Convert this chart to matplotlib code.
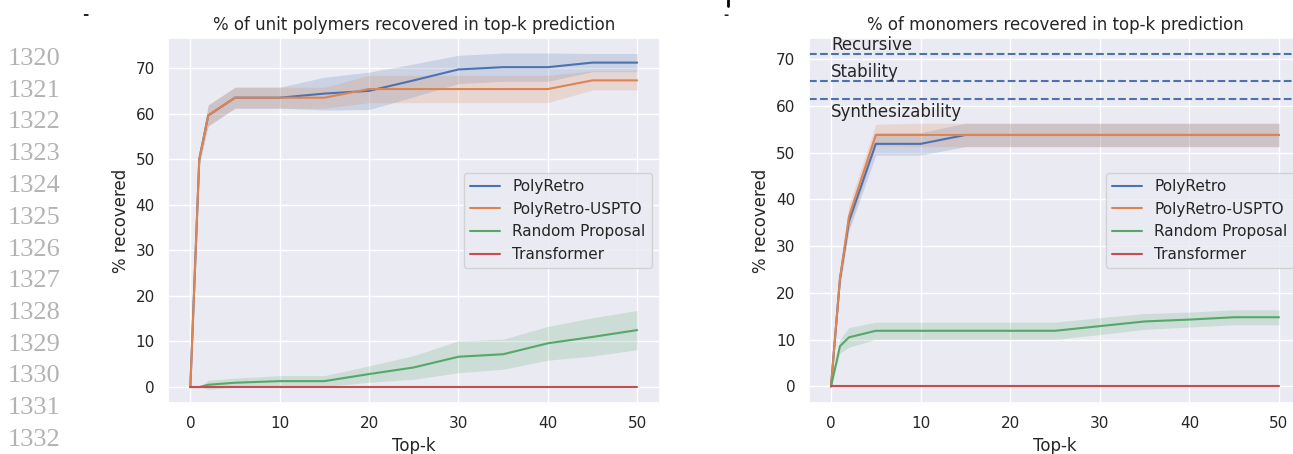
import matplotlib
matplotlib.use('Agg')
import matplotlib.pyplot as plt
import numpy as np
import seaborn as sns
from matplotlib.lines import Line2D

sns.set_theme(style='darkgrid', context='notebook')

# top-k values evaluated
top_k = [0, 1, 2, 5, 10, 15, 20, 25, 30, 35, 40, 45, 50]

# % of unit polymers recovered (mean and std over runs)
unit_polyretro = [0, 50, 59.6, 63.5, 63.5, 64.4, 65.0, 67.3, 69.7, 70.2, 70.2, 71.2, 71.2]
unit_polyretro_std = [0, 1.0, 2.3, 2.3, 2.3, 3.6, 4.1, 3.6, 3.1, 3.1, 3.1, 2.0, 2.0]
unit_uspto = [0, 50, 59.6, 63.5, 63.5, 63.5, 65.4, 65.4, 65.4, 65.4, 65.4, 67.3, 67.3]
unit_uspto_std = [0, 1.0, 2.3, 2.3, 2.3, 2.3, 3.0, 3.0, 3.0, 3.0, 3.0, 2.1, 2.1]
unit_random = [0, 0, 0.5, 0.95, 1.3, 1.3, 2.85, 4.3, 6.65, 7.2, 9.6, 11.0, 12.5]
unit_random_std = [0, 0, 1.0, 1.0, 1.2, 1.2, 1.8, 2.6, 3.5, 3.3, 3.7, 4.2, 4.3]
unit_transformer = [0] * 13
unit_transformer_std = [0] * 13

# % of monomers recovered
mono_polyretro = [0, 23, 35.3, 51.9, 51.9, 53.8, 53.8, 53.8, 53.8, 53.8, 53.8, 53.8, 53.8]
mono_polyretro_std = [0, 1.5, 2.0, 2.4, 2.4, 2.5, 2.5, 2.5, 2.5, 2.5, 2.5, 2.5, 2.5]
mono_uspto = [0, 23, 36.3, 53.8, 53.8, 53.8, 53.8, 53.8, 53.8, 53.8, 53.8, 53.8, 53.8]
mono_uspto_std = [0, 1.5, 2.5, 2.3, 2.5, 2.5, 2.5, 2.5, 2.5, 2.5, 2.5, 2.5, 2.5]
mono_random = [0, 8.6, 10.5, 11.9, 11.9, 11.9, 11.9, 11.9, 12.9, 13.9, 14.3, 14.8, 14.8]
mono_random_std = [0, 1.5, 2.1, 1.85, 1.85, 1.85, 1.85, 1.85, 1.8, 1.7, 1.6, 1.6, 1.6]
mono_transformer = [0] * 13
mono_transformer_std = [0] * 13

# baselines for monomers
ref_names = ['Recursive', 'Stability', 'Synthesizability']
ref_values = [71.1, 65.3, 61.5]

methods = ['PolyRetro', 'PolyRetro-USPTO', 'Random Proposal', 'Transformer']
unit_series = [(unit_polyretro, unit_polyretro_std), (unit_uspto, unit_uspto_std),
               (unit_random, unit_random_std), (unit_transformer, unit_transformer_std)]
mono_series = [(mono_polyretro, mono_polyretro_std), (mono_uspto, mono_uspto_std),
               (mono_random, mono_random_std), (mono_transformer, mono_transformer_std)]

colors = sns.color_palette('deep')

W, H = 1293, 454
fig = plt.figure(figsize=(W / 100, H / 100), dpi=100)


def px_axes(left, top, right, bottom):
    return fig.add_axes([left / W, 1 - bottom / H, (right - left) / W, (bottom - top) / H])


def draw(ax, series):
    x = np.array(top_k)
    for name, (m, s), c in zip(methods, series, colors):
        m = np.array(m)
        s = np.array(s)
        ax.plot(x, m, color=c, label=name)
        ax.fill_between(x, m - s, m + s, color=c, alpha=0.2, linewidth=0)
    ax.set_xlabel('Top-k')
    ax.set_ylabel('% recovered')


ax1 = px_axes(168, 38, 659.5, 403)
draw(ax1, unit_series)
ax1.set_ylim(-3.5, 76.6)
ax1.set_title('% of unit polymers recovered in top-k prediction')
ax1.legend(loc='center right')

ax2 = px_axes(808.6, 38, 1301.4, 403)
draw(ax2, mono_series)
for name, v in zip(ref_names, ref_values):
    ax2.axhline(v, color=colors[0], linestyle='--')
ax2.text(0, ref_values[0], ref_names[0], va='bottom')
ax2.text(0, ref_values[1], ref_names[1], va='bottom')
ax2.text(0, ref_values[2] - 0.8, ref_names[2], va='top')
ax2.set_ylim(-3.55, 74.55)
ax2.set_title('% of monomers recovered in top-k prediction')
ax2.legend(loc='center right')

# line numbers in the margin
for i in range(13):
    fig.text(8 / W, 1 - (59 + i * 31.75) / H, str(1320 + i), color='#b3b3b3',
             family='Liberation Serif', fontsize=19, va='center', ha='left')

fig.text(85 / W, 1 - 14 / H, '-', fontsize=11, fontweight='bold', ha='center', va='center')
fig.text(726 / W, 1 - 15 / H, '-', fontsize=9, fontweight='bold', ha='center', va='center')
fig.add_artist(Line2D([727.5 / W, 727.5 / W], [1, 1 - 6 / H], color='black', linewidth=2,
                      transform=fig.transFigure))

fig.savefig('out.png', dpi=100)
